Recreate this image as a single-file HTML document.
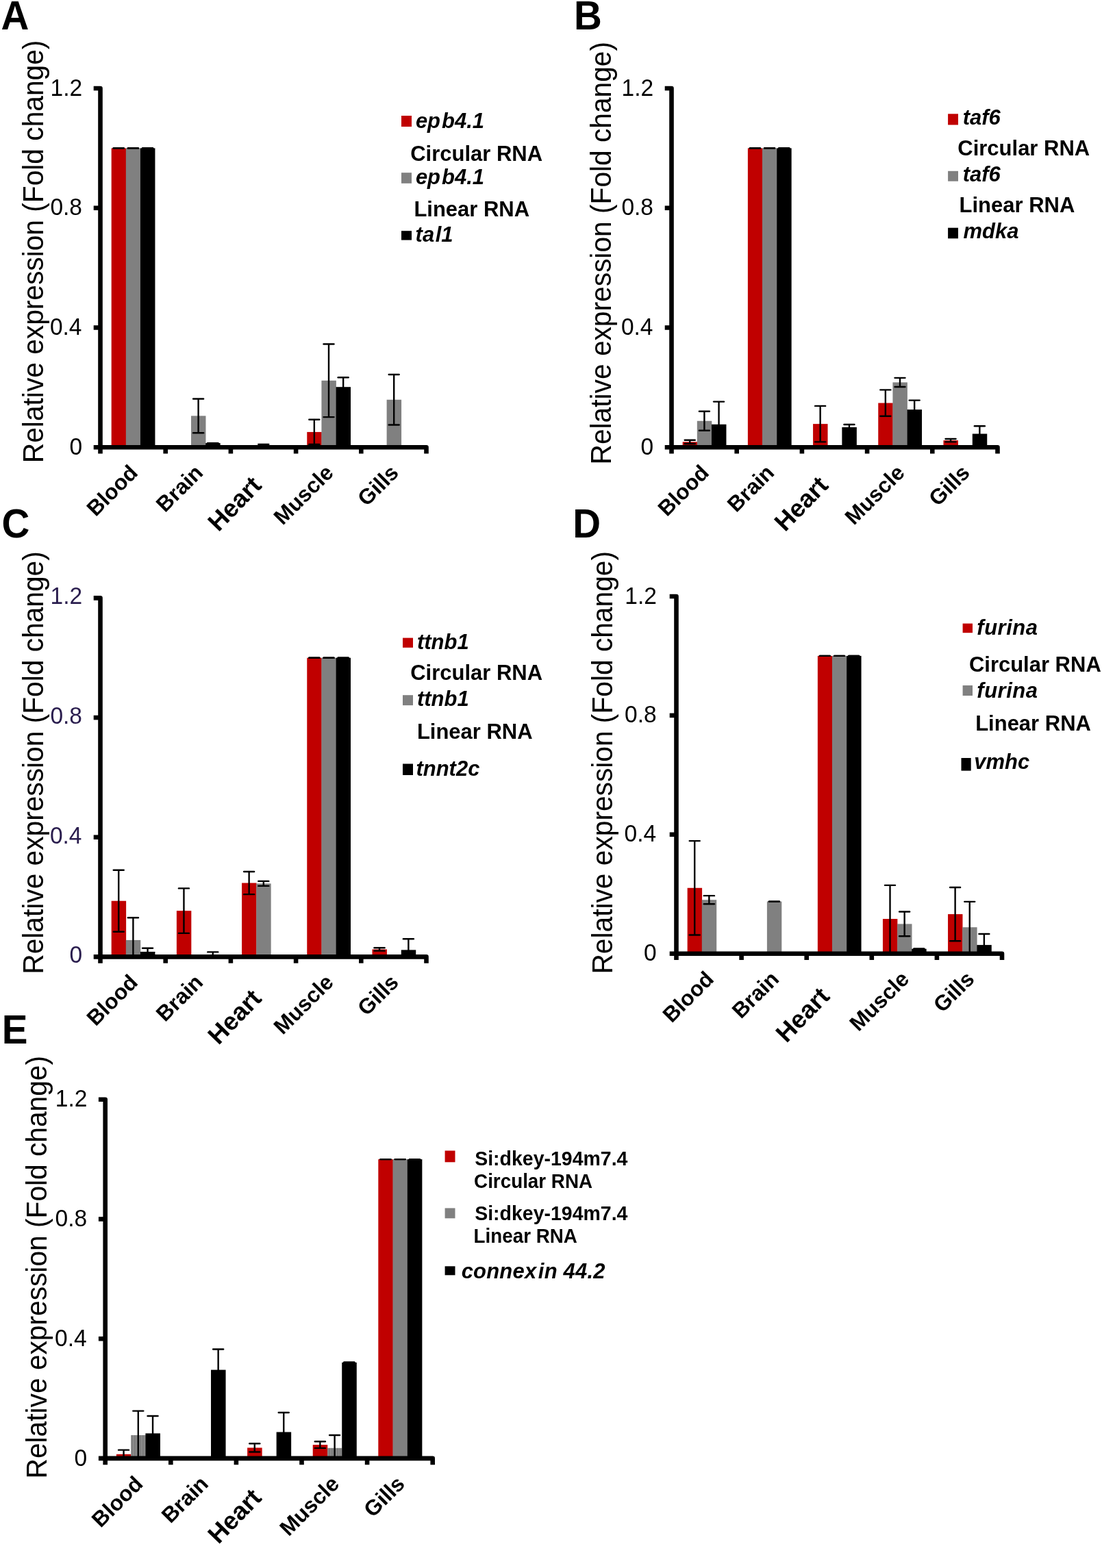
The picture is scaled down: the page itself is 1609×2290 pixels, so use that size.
<!DOCTYPE html>
<html><head><meta charset="utf-8"><title>Figure</title>
<style>html,body{margin:0;padding:0;background:#fff;}svg{display:block;}</style>
</head><body>
<svg width="1609" height="2290" viewBox="0 0 1609 2290" font-family="'Liberation Sans', Arial, sans-serif">
<defs><pattern id="stripe" width="4" height="4" patternUnits="userSpaceOnUse"><rect width="4" height="4" fill="#8a8a8a"/><rect width="1.6" height="4" fill="#7a7a7a"/></pattern></defs>
<rect width="1609" height="2290" fill="#fff"/>
<rect x="162.67" y="216.4" width="21.46" height="436.8" fill="#C00000"/>
<rect x="183.82" y="216.4" width="21.46" height="436.8" fill="#808080"/>
<rect x="204.98" y="216.4" width="21.46" height="436.8" fill="#000000"/>
<rect x="279.02" y="607.34" width="21.46" height="45.86" fill="#808080"/>
<rect x="300.18" y="647.08" width="21.46" height="6.12" fill="#000000"/>
<rect x="374.22" y="650.58" width="21.46" height="2.62" fill="#808080"/>
<rect x="448.27" y="630.92" width="21.46" height="22.28" fill="#C00000"/>
<rect x="469.42" y="555.79" width="21.46" height="97.41" fill="#808080"/>
<rect x="490.58" y="565.18" width="21.46" height="88.02" fill="#000000"/>
<rect x="564.62" y="583.75" width="21.46" height="69.45" fill="#808080"/>
<line x1="173.24" y1="216.4" x2="173.24" y2="216.4" stroke="#000" stroke-width="2.4"/>
<line x1="165.74" y1="216.4" x2="180.74" y2="216.4" stroke="#000" stroke-width="2.4" stroke-linecap="round"/>
<line x1="165.74" y1="216.4" x2="180.74" y2="216.4" stroke="#000" stroke-width="2.4" stroke-linecap="round"/>
<line x1="194.4" y1="216.4" x2="194.4" y2="216.4" stroke="#000" stroke-width="2.4"/>
<line x1="186.9" y1="216.4" x2="201.9" y2="216.4" stroke="#000" stroke-width="2.4" stroke-linecap="round"/>
<line x1="186.9" y1="216.4" x2="201.9" y2="216.4" stroke="#000" stroke-width="2.4" stroke-linecap="round"/>
<line x1="215.56" y1="216.4" x2="215.56" y2="216.4" stroke="#000" stroke-width="2.4"/>
<line x1="208.06" y1="216.4" x2="223.06" y2="216.4" stroke="#000" stroke-width="2.4" stroke-linecap="round"/>
<line x1="208.06" y1="216.4" x2="223.06" y2="216.4" stroke="#000" stroke-width="2.4" stroke-linecap="round"/>
<line x1="289.6" y1="582.44" x2="289.6" y2="632.23" stroke="#000" stroke-width="2.4"/>
<line x1="282.1" y1="582.44" x2="297.1" y2="582.44" stroke="#000" stroke-width="2.4" stroke-linecap="round"/>
<line x1="282.1" y1="632.23" x2="297.1" y2="632.23" stroke="#000" stroke-width="2.4" stroke-linecap="round"/>
<line x1="310.76" y1="647.08" x2="310.76" y2="647.08" stroke="#000" stroke-width="2.4"/>
<line x1="303.26" y1="647.08" x2="318.26" y2="647.08" stroke="#000" stroke-width="2.4" stroke-linecap="round"/>
<line x1="303.26" y1="647.08" x2="318.26" y2="647.08" stroke="#000" stroke-width="2.4" stroke-linecap="round"/>
<line x1="384.8" y1="648.83" x2="384.8" y2="652.33" stroke="#000" stroke-width="2.4"/>
<line x1="377.3" y1="648.83" x2="392.3" y2="648.83" stroke="#000" stroke-width="2.4" stroke-linecap="round"/>
<line x1="458.84" y1="612.8" x2="458.84" y2="649.05" stroke="#000" stroke-width="2.4"/>
<line x1="451.34" y1="612.8" x2="466.34" y2="612.8" stroke="#000" stroke-width="2.4" stroke-linecap="round"/>
<line x1="451.34" y1="649.05" x2="466.34" y2="649.05" stroke="#000" stroke-width="2.4" stroke-linecap="round"/>
<line x1="480" y1="502.5" x2="480" y2="609.08" stroke="#000" stroke-width="2.4"/>
<line x1="472.5" y1="502.5" x2="487.5" y2="502.5" stroke="#000" stroke-width="2.4" stroke-linecap="round"/>
<line x1="472.5" y1="609.08" x2="487.5" y2="609.08" stroke="#000" stroke-width="2.4" stroke-linecap="round"/>
<line x1="501.16" y1="551.21" x2="501.16" y2="579.16" stroke="#000" stroke-width="2.4"/>
<line x1="493.66" y1="551.21" x2="508.66" y2="551.21" stroke="#000" stroke-width="2.4" stroke-linecap="round"/>
<line x1="493.66" y1="579.16" x2="508.66" y2="579.16" stroke="#000" stroke-width="2.4" stroke-linecap="round"/>
<line x1="575.2" y1="547.06" x2="575.2" y2="620.44" stroke="#000" stroke-width="2.4"/>
<line x1="567.7" y1="547.06" x2="582.7" y2="547.06" stroke="#000" stroke-width="2.4" stroke-linecap="round"/>
<line x1="567.7" y1="620.44" x2="582.7" y2="620.44" stroke="#000" stroke-width="2.4" stroke-linecap="round"/>
<path d="M136.7,129.04 H146.5 V662.5" fill="none" stroke="#000" stroke-width="6.6" stroke-linejoin="round"/>
<line x1="136.7" y1="478.48" x2="146.5" y2="478.48" stroke="#000" stroke-width="6.6"/>
<line x1="136.7" y1="303.76" x2="146.5" y2="303.76" stroke="#000" stroke-width="6.6"/>
<path d="M136.7,653.2 H622.5 V662.5" fill="none" stroke="#000" stroke-width="6.6" stroke-linejoin="round"/>
<line x1="241.7" y1="653.2" x2="241.7" y2="662.5" stroke="#000" stroke-width="6.6"/>
<line x1="336.9" y1="653.2" x2="336.9" y2="662.5" stroke="#000" stroke-width="6.6"/>
<line x1="432.1" y1="653.2" x2="432.1" y2="662.5" stroke="#000" stroke-width="6.6"/>
<line x1="527.3" y1="653.2" x2="527.3" y2="662.5" stroke="#000" stroke-width="6.6"/>
<text transform="translate(101.38,663.8) scale(1,1.04)" font-size="33.5" font-weight="normal" font-style="normal" fill="#000">0</text>
<text transform="translate(72.88,489.08) scale(1,1.04)" font-size="33.5" font-weight="normal" font-style="normal" fill="#000">0.4</text>
<text transform="translate(73.38,314.36) scale(1,1.04)" font-size="33.5" font-weight="normal" font-style="normal" fill="#000">0.8</text>
<text transform="translate(73.62,139.64) scale(1,1.04)" font-size="33.5" font-weight="normal" font-style="normal" fill="#000">1.2</text>
<text transform="translate(63,367.4) rotate(-90) scale(1,1.04)" font-size="40.7" text-anchor="middle" fill="#000">Relative expression (Fold change)</text>
<text transform="translate(1.38,42.8) scale(1,1.04)" font-size="56.5" font-weight="bold" font-style="normal" fill="#000">A</text>
<text transform="translate(203,692.3) rotate(-45)" font-size="31.6" font-weight="bold" text-anchor="end" fill="#000">Blood</text>
<text transform="translate(298.2,692.3) rotate(-45)" font-size="31.6" font-weight="bold" text-anchor="end" fill="#000">Brain</text>
<text transform="translate(383.78,710.71) rotate(-46)" font-size="36.5" font-weight="bold" text-anchor="end" fill="#000">Heart</text>
<text transform="translate(488.6,692.3) rotate(-45)" font-size="31.6" font-weight="bold" text-anchor="end" fill="#000">Muscle</text>
<text transform="translate(583.8,692.3) rotate(-45)" font-size="31.6" font-weight="bold" text-anchor="end" fill="#000">Gills</text>
<rect x="586" y="169" width="15" height="16" fill="#C00000"/>
<text transform="translate(606.88,186.5) scale(1,1.04)" font-size="31" font-weight="bold" font-style="italic" fill="#000">ep<tspan dx="2">b4.1</tspan></text>
<text transform="translate(599.23,235) scale(1,1.04)" font-size="31" font-weight="bold" font-style="normal" fill="#000">Circular RNA</text>
<rect x="586" y="252.2" width="15" height="15.6" fill="#808080"/>
<text transform="translate(606.88,269.3) scale(1,1.04)" font-size="31" font-weight="bold" font-style="italic" fill="#000">ep<tspan dx="2">b4.1</tspan></text>
<text transform="translate(604.38,315.6) scale(1,1.04)" font-size="31" font-weight="bold" font-style="normal" fill="#000">Linear RNA</text>
<rect x="586" y="337.2" width="15" height="13.4" fill="#000000"/>
<text transform="translate(606.62,352.9) scale(1,1.04)" font-size="31" font-weight="bold" font-style="italic" fill="#000">ta<tspan dx="1.5">l1</tspan></text>
<rect x="996.67" y="645.34" width="21.46" height="7.86" fill="#C00000"/>
<rect x="1017.82" y="614.76" width="21.46" height="38.44" fill="#808080"/>
<rect x="1038.98" y="619.78" width="21.46" height="33.42" fill="#000000"/>
<rect x="1091.87" y="216.4" width="21.46" height="436.8" fill="#C00000"/>
<rect x="1113.02" y="216.4" width="21.46" height="436.8" fill="#808080"/>
<rect x="1134.18" y="216.4" width="21.46" height="436.8" fill="#000000"/>
<rect x="1187.07" y="619.13" width="21.46" height="34.07" fill="#C00000"/>
<rect x="1229.38" y="623.93" width="21.46" height="29.27" fill="#000000"/>
<rect x="1282.27" y="588.55" width="21.46" height="64.65" fill="#C00000"/>
<rect x="1303.42" y="558.41" width="21.46" height="94.79" fill="#808080"/>
<rect x="1324.58" y="598.16" width="21.46" height="55.04" fill="#000000"/>
<rect x="1377.47" y="643.15" width="21.46" height="10.05" fill="#C00000"/>
<rect x="1419.78" y="633.54" width="21.46" height="19.66" fill="#000000"/>
<line x1="1007.24" y1="642.72" x2="1007.24" y2="647.96" stroke="#000" stroke-width="2.4"/>
<line x1="999.74" y1="642.72" x2="1014.74" y2="642.72" stroke="#000" stroke-width="2.4" stroke-linecap="round"/>
<line x1="999.74" y1="647.96" x2="1014.74" y2="647.96" stroke="#000" stroke-width="2.4" stroke-linecap="round"/>
<line x1="1028.4" y1="600.78" x2="1028.4" y2="628.74" stroke="#000" stroke-width="2.4"/>
<line x1="1020.9" y1="600.78" x2="1035.9" y2="600.78" stroke="#000" stroke-width="2.4" stroke-linecap="round"/>
<line x1="1020.9" y1="628.74" x2="1035.9" y2="628.74" stroke="#000" stroke-width="2.4" stroke-linecap="round"/>
<line x1="1049.56" y1="586.59" x2="1049.56" y2="652.98" stroke="#000" stroke-width="2.4"/>
<line x1="1042.06" y1="586.59" x2="1057.06" y2="586.59" stroke="#000" stroke-width="2.4" stroke-linecap="round"/>
<line x1="1102.44" y1="216.4" x2="1102.44" y2="216.4" stroke="#000" stroke-width="2.4"/>
<line x1="1094.94" y1="216.4" x2="1109.94" y2="216.4" stroke="#000" stroke-width="2.4" stroke-linecap="round"/>
<line x1="1094.94" y1="216.4" x2="1109.94" y2="216.4" stroke="#000" stroke-width="2.4" stroke-linecap="round"/>
<line x1="1123.6" y1="216.4" x2="1123.6" y2="216.4" stroke="#000" stroke-width="2.4"/>
<line x1="1116.1" y1="216.4" x2="1131.1" y2="216.4" stroke="#000" stroke-width="2.4" stroke-linecap="round"/>
<line x1="1116.1" y1="216.4" x2="1131.1" y2="216.4" stroke="#000" stroke-width="2.4" stroke-linecap="round"/>
<line x1="1144.76" y1="216.4" x2="1144.76" y2="216.4" stroke="#000" stroke-width="2.4"/>
<line x1="1137.26" y1="216.4" x2="1152.26" y2="216.4" stroke="#000" stroke-width="2.4" stroke-linecap="round"/>
<line x1="1137.26" y1="216.4" x2="1152.26" y2="216.4" stroke="#000" stroke-width="2.4" stroke-linecap="round"/>
<line x1="1197.64" y1="592.92" x2="1197.64" y2="645.34" stroke="#000" stroke-width="2.4"/>
<line x1="1190.14" y1="592.92" x2="1205.14" y2="592.92" stroke="#000" stroke-width="2.4" stroke-linecap="round"/>
<line x1="1190.14" y1="645.34" x2="1205.14" y2="645.34" stroke="#000" stroke-width="2.4" stroke-linecap="round"/>
<line x1="1239.96" y1="620" x2="1239.96" y2="627.87" stroke="#000" stroke-width="2.4"/>
<line x1="1232.46" y1="620" x2="1247.46" y2="620" stroke="#000" stroke-width="2.4" stroke-linecap="round"/>
<line x1="1232.46" y1="627.87" x2="1247.46" y2="627.87" stroke="#000" stroke-width="2.4" stroke-linecap="round"/>
<line x1="1292.84" y1="569.33" x2="1292.84" y2="607.77" stroke="#000" stroke-width="2.4"/>
<line x1="1285.34" y1="569.33" x2="1300.34" y2="569.33" stroke="#000" stroke-width="2.4" stroke-linecap="round"/>
<line x1="1285.34" y1="607.77" x2="1300.34" y2="607.77" stroke="#000" stroke-width="2.4" stroke-linecap="round"/>
<line x1="1314" y1="551.86" x2="1314" y2="564.97" stroke="#000" stroke-width="2.4"/>
<line x1="1306.5" y1="551.86" x2="1321.5" y2="551.86" stroke="#000" stroke-width="2.4" stroke-linecap="round"/>
<line x1="1306.5" y1="564.97" x2="1321.5" y2="564.97" stroke="#000" stroke-width="2.4" stroke-linecap="round"/>
<line x1="1335.16" y1="584.62" x2="1335.16" y2="611.7" stroke="#000" stroke-width="2.4"/>
<line x1="1327.66" y1="584.62" x2="1342.66" y2="584.62" stroke="#000" stroke-width="2.4" stroke-linecap="round"/>
<line x1="1327.66" y1="611.7" x2="1342.66" y2="611.7" stroke="#000" stroke-width="2.4" stroke-linecap="round"/>
<line x1="1388.04" y1="640.97" x2="1388.04" y2="645.34" stroke="#000" stroke-width="2.4"/>
<line x1="1380.54" y1="640.97" x2="1395.54" y2="640.97" stroke="#000" stroke-width="2.4" stroke-linecap="round"/>
<line x1="1380.54" y1="645.34" x2="1395.54" y2="645.34" stroke="#000" stroke-width="2.4" stroke-linecap="round"/>
<line x1="1430.36" y1="622.19" x2="1430.36" y2="644.9" stroke="#000" stroke-width="2.4"/>
<line x1="1422.86" y1="622.19" x2="1437.86" y2="622.19" stroke="#000" stroke-width="2.4" stroke-linecap="round"/>
<line x1="1422.86" y1="644.9" x2="1437.86" y2="644.9" stroke="#000" stroke-width="2.4" stroke-linecap="round"/>
<path d="M970.7,129.04 H980.5 V662.5" fill="none" stroke="#000" stroke-width="6.6" stroke-linejoin="round"/>
<line x1="970.7" y1="478.48" x2="980.5" y2="478.48" stroke="#000" stroke-width="6.6"/>
<line x1="970.7" y1="303.76" x2="980.5" y2="303.76" stroke="#000" stroke-width="6.6"/>
<path d="M970.7,653.2 H1456.5 V662.5" fill="none" stroke="#000" stroke-width="6.6" stroke-linejoin="round"/>
<line x1="1075.7" y1="653.2" x2="1075.7" y2="662.5" stroke="#000" stroke-width="6.6"/>
<line x1="1170.9" y1="653.2" x2="1170.9" y2="662.5" stroke="#000" stroke-width="6.6"/>
<line x1="1266.1" y1="653.2" x2="1266.1" y2="662.5" stroke="#000" stroke-width="6.6"/>
<line x1="1361.3" y1="653.2" x2="1361.3" y2="662.5" stroke="#000" stroke-width="6.6"/>
<text transform="translate(935.38,663.8) scale(1,1.04)" font-size="33.5" font-weight="normal" font-style="normal" fill="#000">0</text>
<text transform="translate(906.88,489.08) scale(1,1.04)" font-size="33.5" font-weight="normal" font-style="normal" fill="#000">0.4</text>
<text transform="translate(907.38,314.36) scale(1,1.04)" font-size="33.5" font-weight="normal" font-style="normal" fill="#000">0.8</text>
<text transform="translate(907.62,139.64) scale(1,1.04)" font-size="33.5" font-weight="normal" font-style="normal" fill="#000">1.2</text>
<text transform="translate(892.4,369.7) rotate(-90) scale(1,1.04)" font-size="40.7" text-anchor="middle" fill="#000">Relative expression (Fold change)</text>
<text transform="translate(837.92,42.5) scale(1,1.04)" font-size="56.5" font-weight="bold" font-style="normal" fill="#000">B</text>
<text transform="translate(1037,692.3) rotate(-45)" font-size="31.6" font-weight="bold" text-anchor="end" fill="#000">Blood</text>
<text transform="translate(1132.2,692.3) rotate(-45)" font-size="31.6" font-weight="bold" text-anchor="end" fill="#000">Brain</text>
<text transform="translate(1211.18,710.71) rotate(-46)" font-size="36.5" font-weight="bold" text-anchor="end" fill="#000">Heart</text>
<text transform="translate(1322.6,692.3) rotate(-45)" font-size="31.6" font-weight="bold" text-anchor="end" fill="#000">Muscle</text>
<text transform="translate(1417.8,692.3) rotate(-45)" font-size="31.6" font-weight="bold" text-anchor="end" fill="#000">Gills</text>
<rect x="1384.1" y="166.3" width="14.9" height="16.1" fill="#C00000"/>
<text transform="translate(1405.72,181.9) scale(1,1.04)" font-size="31" font-weight="bold" font-style="italic" fill="#000">taf6</text>
<text transform="translate(1398.33,227.2) scale(1,1.04)" font-size="31" font-weight="bold" font-style="normal" fill="#000">Circular RNA</text>
<rect x="1384.1" y="249.8" width="14.9" height="14.9" fill="#808080"/>
<text transform="translate(1405.72,265.1) scale(1,1.04)" font-size="31" font-weight="bold" font-style="italic" fill="#000">taf6</text>
<text transform="translate(1400.58,310.4) scale(1,1.04)" font-size="31" font-weight="bold" font-style="normal" fill="#000">Linear RNA</text>
<rect x="1384.1" y="332.7" width="14.9" height="15.6" fill="#000000"/>
<text transform="translate(1406.47,347.6) scale(1,1.04)" font-size="31" font-weight="bold" font-style="italic" fill="#000">mdka</text>
<rect x="162.67" y="1315.74" width="21.46" height="81.66" fill="#C00000"/>
<rect x="183.82" y="1372.94" width="21.46" height="24.46" fill="#808080"/>
<rect x="204.98" y="1389.98" width="21.46" height="7.42" fill="#000000"/>
<rect x="257.87" y="1330.15" width="21.46" height="67.25" fill="#C00000"/>
<rect x="300.18" y="1396.09" width="21.46" height="1.31" fill="#000000"/>
<rect x="353.07" y="1289.54" width="21.46" height="107.86" fill="#C00000"/>
<rect x="374.22" y="1290.41" width="21.46" height="106.99" fill="#808080"/>
<rect x="448.27" y="960.7" width="21.46" height="436.7" fill="#C00000"/>
<rect x="469.42" y="960.7" width="21.46" height="436.7" fill="#808080"/>
<rect x="490.58" y="960.7" width="21.46" height="436.7" fill="#000000"/>
<rect x="543.47" y="1386.48" width="21.46" height="10.92" fill="#C00000"/>
<rect x="585.78" y="1387.36" width="21.46" height="10.04" fill="#000000"/>
<line x1="173.24" y1="1270.76" x2="173.24" y2="1360.72" stroke="#000" stroke-width="2.4"/>
<line x1="165.74" y1="1270.76" x2="180.74" y2="1270.76" stroke="#000" stroke-width="2.4" stroke-linecap="round"/>
<line x1="165.74" y1="1360.72" x2="180.74" y2="1360.72" stroke="#000" stroke-width="2.4" stroke-linecap="round"/>
<line x1="194.4" y1="1340.19" x2="194.4" y2="1397.4" stroke="#000" stroke-width="2.4"/>
<line x1="186.9" y1="1340.19" x2="201.9" y2="1340.19" stroke="#000" stroke-width="2.4" stroke-linecap="round"/>
<line x1="215.56" y1="1384.74" x2="215.56" y2="1395.22" stroke="#000" stroke-width="2.4"/>
<line x1="208.06" y1="1384.74" x2="223.06" y2="1384.74" stroke="#000" stroke-width="2.4" stroke-linecap="round"/>
<line x1="268.44" y1="1297.4" x2="268.44" y2="1362.9" stroke="#000" stroke-width="2.4"/>
<line x1="260.94" y1="1297.4" x2="275.94" y2="1297.4" stroke="#000" stroke-width="2.4" stroke-linecap="round"/>
<line x1="260.94" y1="1362.9" x2="275.94" y2="1362.9" stroke="#000" stroke-width="2.4" stroke-linecap="round"/>
<line x1="310.76" y1="1390.41" x2="310.76" y2="1397.4" stroke="#000" stroke-width="2.4"/>
<line x1="303.26" y1="1390.41" x2="318.26" y2="1390.41" stroke="#000" stroke-width="2.4" stroke-linecap="round"/>
<line x1="363.64" y1="1272.94" x2="363.64" y2="1306.13" stroke="#000" stroke-width="2.4"/>
<line x1="356.14" y1="1272.94" x2="371.14" y2="1272.94" stroke="#000" stroke-width="2.4" stroke-linecap="round"/>
<line x1="356.14" y1="1306.13" x2="371.14" y2="1306.13" stroke="#000" stroke-width="2.4" stroke-linecap="round"/>
<line x1="384.8" y1="1286.91" x2="384.8" y2="1293.9" stroke="#000" stroke-width="2.4"/>
<line x1="377.3" y1="1286.91" x2="392.3" y2="1286.91" stroke="#000" stroke-width="2.4" stroke-linecap="round"/>
<line x1="377.3" y1="1293.9" x2="392.3" y2="1293.9" stroke="#000" stroke-width="2.4" stroke-linecap="round"/>
<line x1="458.84" y1="960.7" x2="458.84" y2="960.7" stroke="#000" stroke-width="2.4"/>
<line x1="451.34" y1="960.7" x2="466.34" y2="960.7" stroke="#000" stroke-width="2.4" stroke-linecap="round"/>
<line x1="451.34" y1="960.7" x2="466.34" y2="960.7" stroke="#000" stroke-width="2.4" stroke-linecap="round"/>
<line x1="480" y1="960.7" x2="480" y2="960.7" stroke="#000" stroke-width="2.4"/>
<line x1="472.5" y1="960.7" x2="487.5" y2="960.7" stroke="#000" stroke-width="2.4" stroke-linecap="round"/>
<line x1="472.5" y1="960.7" x2="487.5" y2="960.7" stroke="#000" stroke-width="2.4" stroke-linecap="round"/>
<line x1="501.16" y1="960.7" x2="501.16" y2="960.7" stroke="#000" stroke-width="2.4"/>
<line x1="493.66" y1="960.7" x2="508.66" y2="960.7" stroke="#000" stroke-width="2.4" stroke-linecap="round"/>
<line x1="493.66" y1="960.7" x2="508.66" y2="960.7" stroke="#000" stroke-width="2.4" stroke-linecap="round"/>
<line x1="554.04" y1="1384.3" x2="554.04" y2="1388.67" stroke="#000" stroke-width="2.4"/>
<line x1="546.54" y1="1384.3" x2="561.54" y2="1384.3" stroke="#000" stroke-width="2.4" stroke-linecap="round"/>
<line x1="546.54" y1="1388.67" x2="561.54" y2="1388.67" stroke="#000" stroke-width="2.4" stroke-linecap="round"/>
<line x1="596.36" y1="1371.2" x2="596.36" y2="1397.4" stroke="#000" stroke-width="2.4"/>
<line x1="588.86" y1="1371.2" x2="603.86" y2="1371.2" stroke="#000" stroke-width="2.4" stroke-linecap="round"/>
<path d="M136.7,873.36 H146.5 V1406.7" fill="none" stroke="#000" stroke-width="6.6" stroke-linejoin="round"/>
<line x1="136.7" y1="1222.72" x2="146.5" y2="1222.72" stroke="#000" stroke-width="6.6"/>
<line x1="136.7" y1="1048.04" x2="146.5" y2="1048.04" stroke="#000" stroke-width="6.6"/>
<path d="M136.7,1397.4 H622.5 V1406.7" fill="none" stroke="#000" stroke-width="6.6" stroke-linejoin="round"/>
<line x1="241.7" y1="1397.4" x2="241.7" y2="1406.7" stroke="#000" stroke-width="6.6"/>
<line x1="336.9" y1="1397.4" x2="336.9" y2="1406.7" stroke="#000" stroke-width="6.6"/>
<line x1="432.1" y1="1397.4" x2="432.1" y2="1406.7" stroke="#000" stroke-width="6.6"/>
<line x1="527.3" y1="1397.4" x2="527.3" y2="1406.7" stroke="#000" stroke-width="6.6"/>
<text transform="translate(101.38,1406.4) scale(1,1.04)" font-size="33.5" font-weight="normal" font-style="normal" fill="#2a1d4e">0</text>
<text transform="translate(72.88,1231.72) scale(1,1.04)" font-size="33.5" font-weight="normal" font-style="normal" fill="#2a1d4e">0.4</text>
<text transform="translate(73.38,1057.04) scale(1,1.04)" font-size="33.5" font-weight="normal" font-style="normal" fill="#2a1d4e">0.8</text>
<text transform="translate(73.62,882.36) scale(1,1.04)" font-size="33.5" font-weight="normal" font-style="normal" fill="#2a1d4e">1.2</text>
<text transform="translate(62.9,1114) rotate(-90) scale(1,1.04)" font-size="40.7" text-anchor="middle" fill="#000">Relative expression (Fold change)</text>
<text transform="translate(2.62,784.5) scale(1,1.04)" font-size="56.5" font-weight="bold" font-style="normal" fill="#000">C</text>
<text transform="translate(203,1436.5) rotate(-45)" font-size="31.6" font-weight="bold" text-anchor="end" fill="#000">Blood</text>
<text transform="translate(298.2,1436.5) rotate(-45)" font-size="31.6" font-weight="bold" text-anchor="end" fill="#000">Brain</text>
<text transform="translate(383.78,1460.01) rotate(-46)" font-size="36.5" font-weight="bold" text-anchor="end" fill="#000">Heart</text>
<text transform="translate(488.6,1436.5) rotate(-45)" font-size="31.6" font-weight="bold" text-anchor="end" fill="#000">Muscle</text>
<text transform="translate(583.8,1436.5) rotate(-45)" font-size="31.6" font-weight="bold" text-anchor="end" fill="#000">Gills</text>
<rect x="588" y="931.6" width="15" height="14.2" fill="#C00000"/>
<text transform="translate(608.92,948) scale(1,1.04)" font-size="31" font-weight="bold" font-style="italic" fill="#000">ttnb1</text>
<text transform="translate(599.23,992.8) scale(1,1.04)" font-size="31" font-weight="bold" font-style="normal" fill="#000">Circular RNA</text>
<rect x="588" y="1015.2" width="15" height="14.9" fill="#808080"/>
<text transform="translate(608.92,1030.8) scale(1,1.04)" font-size="31" font-weight="bold" font-style="italic" fill="#000">ttnb1</text>
<text transform="translate(608.88,1078.6) scale(1,1.04)" font-size="31" font-weight="bold" font-style="normal" fill="#000">Linear RNA</text>
<rect x="588" y="1115.5" width="15" height="16.5" fill="#000000"/>
<text transform="translate(607.42,1133) scale(1,1.04)" font-size="31" font-weight="bold" font-style="italic" fill="#000">tnnt2c</text>
<rect x="1003.65" y="1296.78" width="21.43" height="95.92" fill="#C00000"/>
<rect x="1024.78" y="1314.22" width="21.43" height="78.48" fill="#808080"/>
<rect x="1119.88" y="1316.61" width="21.43" height="76.09" fill="#808080"/>
<rect x="1193.85" y="957.9" width="21.43" height="434.8" fill="#C00000"/>
<rect x="1214.98" y="957.9" width="21.43" height="434.8" fill="#808080"/>
<rect x="1236.12" y="957.9" width="21.43" height="434.8" fill="#000000"/>
<rect x="1288.95" y="1342" width="21.43" height="50.7" fill="#C00000"/>
<rect x="1310.08" y="1349.39" width="21.43" height="43.31" fill="#808080"/>
<rect x="1331.22" y="1385.74" width="21.43" height="6.96" fill="#000000"/>
<rect x="1384.05" y="1335.09" width="21.43" height="57.61" fill="#C00000"/>
<rect x="1405.18" y="1354.22" width="21.43" height="38.48" fill="#808080"/>
<rect x="1426.32" y="1380.09" width="21.43" height="12.61" fill="#000000"/>
<line x1="1014.22" y1="1228.08" x2="1014.22" y2="1365.48" stroke="#000" stroke-width="2.4"/>
<line x1="1006.72" y1="1228.08" x2="1021.72" y2="1228.08" stroke="#000" stroke-width="2.4" stroke-linecap="round"/>
<line x1="1006.72" y1="1365.48" x2="1021.72" y2="1365.48" stroke="#000" stroke-width="2.4" stroke-linecap="round"/>
<line x1="1035.35" y1="1308.13" x2="1035.35" y2="1320.31" stroke="#000" stroke-width="2.4"/>
<line x1="1027.85" y1="1308.13" x2="1042.85" y2="1308.13" stroke="#000" stroke-width="2.4" stroke-linecap="round"/>
<line x1="1027.85" y1="1320.31" x2="1042.85" y2="1320.31" stroke="#000" stroke-width="2.4" stroke-linecap="round"/>
<line x1="1130.45" y1="1316.61" x2="1130.45" y2="1316.61" stroke="#000" stroke-width="2.4"/>
<line x1="1122.95" y1="1316.61" x2="1137.95" y2="1316.61" stroke="#000" stroke-width="2.4" stroke-linecap="round"/>
<line x1="1122.95" y1="1316.61" x2="1137.95" y2="1316.61" stroke="#000" stroke-width="2.4" stroke-linecap="round"/>
<line x1="1204.42" y1="957.9" x2="1204.42" y2="957.9" stroke="#000" stroke-width="2.4"/>
<line x1="1196.92" y1="957.9" x2="1211.92" y2="957.9" stroke="#000" stroke-width="2.4" stroke-linecap="round"/>
<line x1="1196.92" y1="957.9" x2="1211.92" y2="957.9" stroke="#000" stroke-width="2.4" stroke-linecap="round"/>
<line x1="1225.55" y1="957.9" x2="1225.55" y2="957.9" stroke="#000" stroke-width="2.4"/>
<line x1="1218.05" y1="957.9" x2="1233.05" y2="957.9" stroke="#000" stroke-width="2.4" stroke-linecap="round"/>
<line x1="1218.05" y1="957.9" x2="1233.05" y2="957.9" stroke="#000" stroke-width="2.4" stroke-linecap="round"/>
<line x1="1246.68" y1="957.9" x2="1246.68" y2="957.9" stroke="#000" stroke-width="2.4"/>
<line x1="1239.18" y1="957.9" x2="1254.18" y2="957.9" stroke="#000" stroke-width="2.4" stroke-linecap="round"/>
<line x1="1239.18" y1="957.9" x2="1254.18" y2="957.9" stroke="#000" stroke-width="2.4" stroke-linecap="round"/>
<line x1="1299.52" y1="1292.87" x2="1299.52" y2="1391.13" stroke="#000" stroke-width="2.4"/>
<line x1="1292.02" y1="1292.87" x2="1307.02" y2="1292.87" stroke="#000" stroke-width="2.4" stroke-linecap="round"/>
<line x1="1320.65" y1="1331.57" x2="1320.65" y2="1367.22" stroke="#000" stroke-width="2.4"/>
<line x1="1313.15" y1="1331.57" x2="1328.15" y2="1331.57" stroke="#000" stroke-width="2.4" stroke-linecap="round"/>
<line x1="1313.15" y1="1367.22" x2="1328.15" y2="1367.22" stroke="#000" stroke-width="2.4" stroke-linecap="round"/>
<line x1="1341.78" y1="1385.74" x2="1341.78" y2="1385.74" stroke="#000" stroke-width="2.4"/>
<line x1="1334.28" y1="1385.74" x2="1349.28" y2="1385.74" stroke="#000" stroke-width="2.4" stroke-linecap="round"/>
<line x1="1334.28" y1="1385.74" x2="1349.28" y2="1385.74" stroke="#000" stroke-width="2.4" stroke-linecap="round"/>
<line x1="1394.62" y1="1295.96" x2="1394.62" y2="1374.22" stroke="#000" stroke-width="2.4"/>
<line x1="1387.12" y1="1295.96" x2="1402.12" y2="1295.96" stroke="#000" stroke-width="2.4" stroke-linecap="round"/>
<line x1="1387.12" y1="1374.22" x2="1402.12" y2="1374.22" stroke="#000" stroke-width="2.4" stroke-linecap="round"/>
<line x1="1415.75" y1="1316.83" x2="1415.75" y2="1391.61" stroke="#000" stroke-width="2.4"/>
<line x1="1408.25" y1="1316.83" x2="1423.25" y2="1316.83" stroke="#000" stroke-width="2.4" stroke-linecap="round"/>
<line x1="1436.88" y1="1364" x2="1436.88" y2="1392.7" stroke="#000" stroke-width="2.4"/>
<line x1="1429.38" y1="1364" x2="1444.38" y2="1364" stroke="#000" stroke-width="2.4" stroke-linecap="round"/>
<path d="M977.7,870.94 H987.5 V1402" fill="none" stroke="#000" stroke-width="6.6" stroke-linejoin="round"/>
<line x1="977.7" y1="1218.78" x2="987.5" y2="1218.78" stroke="#000" stroke-width="6.6"/>
<line x1="977.7" y1="1044.86" x2="987.5" y2="1044.86" stroke="#000" stroke-width="6.6"/>
<path d="M977.7,1392.7 H1463 V1402" fill="none" stroke="#000" stroke-width="6.6" stroke-linejoin="round"/>
<line x1="1082.6" y1="1392.7" x2="1082.6" y2="1402" stroke="#000" stroke-width="6.6"/>
<line x1="1177.7" y1="1392.7" x2="1177.7" y2="1402" stroke="#000" stroke-width="6.6"/>
<line x1="1272.8" y1="1392.7" x2="1272.8" y2="1402" stroke="#000" stroke-width="6.6"/>
<line x1="1367.9" y1="1392.7" x2="1367.9" y2="1402" stroke="#000" stroke-width="6.6"/>
<text transform="translate(940.08,1403.3) scale(1,1.04)" font-size="33.5" font-weight="normal" font-style="normal" fill="#000">0</text>
<text transform="translate(911.58,1229.38) scale(1,1.04)" font-size="33.5" font-weight="normal" font-style="normal" fill="#000">0.4</text>
<text transform="translate(912.08,1055.46) scale(1,1.04)" font-size="33.5" font-weight="normal" font-style="normal" fill="#000">0.8</text>
<text transform="translate(912.33,881.54) scale(1,1.04)" font-size="33.5" font-weight="normal" font-style="normal" fill="#000">1.2</text>
<text transform="translate(894.3,1113.8) rotate(-90) scale(1,1.04)" font-size="40.7" text-anchor="middle" fill="#000">Relative expression (Fold change)</text>
<text transform="translate(836.23,784.5) scale(1,1.04)" font-size="56.5" font-weight="bold" font-style="normal" fill="#000">D</text>
<text transform="translate(1043.95,1431.8) rotate(-45)" font-size="31.6" font-weight="bold" text-anchor="end" fill="#000">Blood</text>
<text transform="translate(1139.05,1431.8) rotate(-45)" font-size="31.6" font-weight="bold" text-anchor="end" fill="#000">Brain</text>
<text transform="translate(1213.08,1457.01) rotate(-46)" font-size="36.5" font-weight="bold" text-anchor="end" fill="#000">Heart</text>
<text transform="translate(1329.25,1431.8) rotate(-45)" font-size="31.6" font-weight="bold" text-anchor="end" fill="#000">Muscle</text>
<text transform="translate(1424.35,1431.8) rotate(-45)" font-size="31.6" font-weight="bold" text-anchor="end" fill="#000">Gills</text>
<rect x="1405.6" y="910.6" width="14.4" height="13.6" fill="#C00000"/>
<text transform="translate(1426.33,927) scale(1,1.04)" font-size="31" font-weight="bold" font-style="italic" fill="#000" letter-spacing="0.5">furina</text>
<text transform="translate(1414.92,981.1) scale(1,1.04)" font-size="31" font-weight="bold" font-style="normal" fill="#000">Circular RNA</text>
<rect x="1405.6" y="1001" width="14.4" height="15" fill="#808080"/>
<text transform="translate(1426.33,1018.8) scale(1,1.04)" font-size="31" font-weight="bold" font-style="italic" fill="#000" letter-spacing="0.5">furina</text>
<text transform="translate(1424.17,1066.5) scale(1,1.04)" font-size="31" font-weight="bold" font-style="normal" fill="#000">Linear RNA</text>
<rect x="1403.5" y="1107" width="14.2" height="18.6" fill="#000000"/>
<text transform="translate(1422.22,1123.4) scale(1,1.04)" font-size="31" font-weight="bold" font-style="italic" fill="#000">vmhc</text>
<rect x="169.93" y="2123.78" width="21.54" height="6.12" fill="#C00000"/>
<rect x="191.18" y="2096" width="21.54" height="33.9" fill="url(#stripe)"/>
<rect x="212.42" y="2093.38" width="21.54" height="36.52" fill="#000000"/>
<rect x="308.02" y="2000.61" width="21.54" height="129.29" fill="#000000"/>
<rect x="361.13" y="2114.39" width="21.54" height="15.51" fill="#C00000"/>
<rect x="403.62" y="2091.46" width="21.54" height="38.44" fill="#000000"/>
<rect x="456.73" y="2110.11" width="21.54" height="19.79" fill="#C00000"/>
<rect x="477.98" y="2114.79" width="21.54" height="15.11" fill="url(#stripe)"/>
<rect x="499.22" y="1989.82" width="21.54" height="140.08" fill="#000000"/>
<rect x="552.33" y="1693.1" width="21.54" height="436.8" fill="#C00000"/>
<rect x="573.58" y="1693.1" width="21.54" height="436.8" fill="#808080"/>
<rect x="594.82" y="1693.1" width="21.54" height="436.8" fill="#000000"/>
<line x1="180.56" y1="2117.67" x2="180.56" y2="2129.9" stroke="#000" stroke-width="2.4"/>
<line x1="173.06" y1="2117.67" x2="188.06" y2="2117.67" stroke="#000" stroke-width="2.4" stroke-linecap="round"/>
<line x1="201.8" y1="2060.62" x2="201.8" y2="2129.9" stroke="#000" stroke-width="2.4"/>
<line x1="194.3" y1="2060.62" x2="209.3" y2="2060.62" stroke="#000" stroke-width="2.4" stroke-linecap="round"/>
<line x1="223.04" y1="2068.05" x2="223.04" y2="2118.72" stroke="#000" stroke-width="2.4"/>
<line x1="215.54" y1="2068.05" x2="230.54" y2="2068.05" stroke="#000" stroke-width="2.4" stroke-linecap="round"/>
<line x1="215.54" y1="2118.72" x2="230.54" y2="2118.72" stroke="#000" stroke-width="2.4" stroke-linecap="round"/>
<line x1="318.64" y1="1970.47" x2="318.64" y2="2030.75" stroke="#000" stroke-width="2.4"/>
<line x1="311.14" y1="1970.47" x2="326.14" y2="1970.47" stroke="#000" stroke-width="2.4" stroke-linecap="round"/>
<line x1="311.14" y1="2030.75" x2="326.14" y2="2030.75" stroke="#000" stroke-width="2.4" stroke-linecap="round"/>
<line x1="371.76" y1="2108.28" x2="371.76" y2="2120.51" stroke="#000" stroke-width="2.4"/>
<line x1="364.26" y1="2108.28" x2="379.26" y2="2108.28" stroke="#000" stroke-width="2.4" stroke-linecap="round"/>
<line x1="364.26" y1="2120.51" x2="379.26" y2="2120.51" stroke="#000" stroke-width="2.4" stroke-linecap="round"/>
<line x1="414.24" y1="2063.07" x2="414.24" y2="2119.85" stroke="#000" stroke-width="2.4"/>
<line x1="406.74" y1="2063.07" x2="421.74" y2="2063.07" stroke="#000" stroke-width="2.4" stroke-linecap="round"/>
<line x1="406.74" y1="2119.85" x2="421.74" y2="2119.85" stroke="#000" stroke-width="2.4" stroke-linecap="round"/>
<line x1="467.36" y1="2105.31" x2="467.36" y2="2114.92" stroke="#000" stroke-width="2.4"/>
<line x1="459.86" y1="2105.31" x2="474.86" y2="2105.31" stroke="#000" stroke-width="2.4" stroke-linecap="round"/>
<line x1="459.86" y1="2114.92" x2="474.86" y2="2114.92" stroke="#000" stroke-width="2.4" stroke-linecap="round"/>
<line x1="488.6" y1="2096" x2="488.6" y2="2129.9" stroke="#000" stroke-width="2.4"/>
<line x1="481.1" y1="2096" x2="496.1" y2="2096" stroke="#000" stroke-width="2.4" stroke-linecap="round"/>
<line x1="509.84" y1="1989.82" x2="509.84" y2="1989.82" stroke="#000" stroke-width="2.4"/>
<line x1="502.34" y1="1989.82" x2="517.34" y2="1989.82" stroke="#000" stroke-width="2.4" stroke-linecap="round"/>
<line x1="502.34" y1="1989.82" x2="517.34" y2="1989.82" stroke="#000" stroke-width="2.4" stroke-linecap="round"/>
<line x1="562.96" y1="1693.1" x2="562.96" y2="1693.1" stroke="#000" stroke-width="2.4"/>
<line x1="555.46" y1="1693.1" x2="570.46" y2="1693.1" stroke="#000" stroke-width="2.4" stroke-linecap="round"/>
<line x1="555.46" y1="1693.1" x2="570.46" y2="1693.1" stroke="#000" stroke-width="2.4" stroke-linecap="round"/>
<line x1="584.2" y1="1693.1" x2="584.2" y2="1693.1" stroke="#000" stroke-width="2.4"/>
<line x1="576.7" y1="1693.1" x2="591.7" y2="1693.1" stroke="#000" stroke-width="2.4" stroke-linecap="round"/>
<line x1="576.7" y1="1693.1" x2="591.7" y2="1693.1" stroke="#000" stroke-width="2.4" stroke-linecap="round"/>
<line x1="605.44" y1="1693.1" x2="605.44" y2="1693.1" stroke="#000" stroke-width="2.4"/>
<line x1="597.94" y1="1693.1" x2="612.94" y2="1693.1" stroke="#000" stroke-width="2.4" stroke-linecap="round"/>
<line x1="597.94" y1="1693.1" x2="612.94" y2="1693.1" stroke="#000" stroke-width="2.4" stroke-linecap="round"/>
<path d="M143.9,1605.74 H153.7 V2139.2" fill="none" stroke="#000" stroke-width="6.6" stroke-linejoin="round"/>
<line x1="143.9" y1="1955.18" x2="153.7" y2="1955.18" stroke="#000" stroke-width="6.6"/>
<line x1="143.9" y1="1780.46" x2="153.7" y2="1780.46" stroke="#000" stroke-width="6.6"/>
<path d="M143.9,2129.9 H631.7 V2139.2" fill="none" stroke="#000" stroke-width="6.6" stroke-linejoin="round"/>
<line x1="249.3" y1="2129.9" x2="249.3" y2="2139.2" stroke="#000" stroke-width="6.6"/>
<line x1="344.9" y1="2129.9" x2="344.9" y2="2139.2" stroke="#000" stroke-width="6.6"/>
<line x1="440.5" y1="2129.9" x2="440.5" y2="2139.2" stroke="#000" stroke-width="6.6"/>
<line x1="536.1" y1="2129.9" x2="536.1" y2="2139.2" stroke="#000" stroke-width="6.6"/>
<text transform="translate(108.57,2140.5) scale(1,1.04)" font-size="33.5" font-weight="normal" font-style="normal" fill="#000">0</text>
<text transform="translate(80.07,1965.78) scale(1,1.04)" font-size="33.5" font-weight="normal" font-style="normal" fill="#000">0.4</text>
<text transform="translate(80.57,1791.06) scale(1,1.04)" font-size="33.5" font-weight="normal" font-style="normal" fill="#000">0.8</text>
<text transform="translate(80.82,1616.34) scale(1,1.04)" font-size="33.5" font-weight="normal" font-style="normal" fill="#000">1.2</text>
<text transform="translate(67.5,1850.7) rotate(-90) scale(1,1.04)" font-size="40.7" text-anchor="middle" fill="#000">Relative expression (Fold change)</text>
<text transform="translate(2.83,1524) scale(1,1.04)" font-size="56.5" font-weight="bold" font-style="normal" fill="#000">E</text>
<text transform="translate(210.4,2169) rotate(-45)" font-size="31.6" font-weight="bold" text-anchor="end" fill="#000">Blood</text>
<text transform="translate(306,2169) rotate(-45)" font-size="31.6" font-weight="bold" text-anchor="end" fill="#000">Brain</text>
<text transform="translate(383.78,2189.21) rotate(-46)" font-size="36.5" font-weight="bold" text-anchor="end" fill="#000">Heart</text>
<text transform="translate(497.2,2169) rotate(-45)" font-size="31.6" font-weight="bold" text-anchor="end" fill="#000">Muscle</text>
<text transform="translate(592.8,2169) rotate(-45)" font-size="31.6" font-weight="bold" text-anchor="end" fill="#000">Gills</text>
<rect x="649.6" y="1680.5" width="14.9" height="16.8" fill="#C00000"/>
<text transform="translate(693.17,1702) scale(1,1.04)" font-size="28.5" font-weight="bold" font-style="normal" fill="#000">Si:dkey-194m7.4</text>
<text transform="translate(692.07,1734.6) scale(1,1.04)" font-size="27.8" font-weight="bold" font-style="normal" fill="#000">Circular RNA</text>
<rect x="649.6" y="1764.4" width="14.9" height="14.9" fill="#808080"/>
<text transform="translate(693.17,1782.1) scale(1,1.04)" font-size="28.5" font-weight="bold" font-style="normal" fill="#000">Si:dkey-194m7.4</text>
<text transform="translate(691.57,1814.8) scale(1,1.04)" font-size="27.8" font-weight="bold" font-style="normal" fill="#000">Linear RNA</text>
<rect x="649.6" y="1849.3" width="14.9" height="13" fill="#000000"/>
<text transform="translate(673.67,1867) scale(1,1.04)" font-size="31" font-weight="bold" font-style="italic" fill="#000" letter-spacing="0.2">connex<tspan dx="2.5">in 44.2</tspan></text>
</svg>
</body></html>
